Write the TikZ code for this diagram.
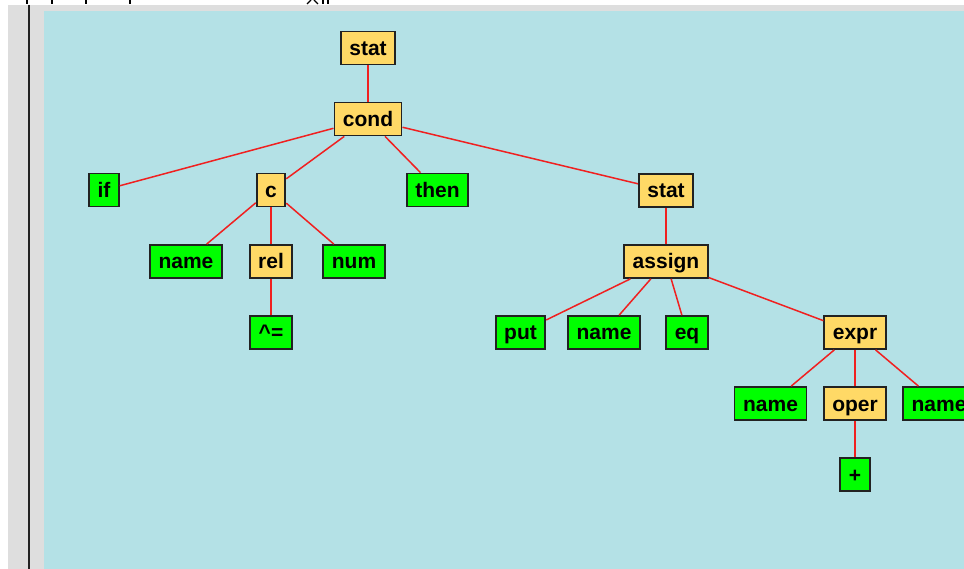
\documentclass[tikz,border=0pt]{standalone}
\usepackage{fontspec}
\setmainfont{Liberation Sans}
\definecolor{panelgray}{HTML}{DEDEDE}
\definecolor{canvas}{HTML}{B4E1E6}
\definecolor{inner}{HTML}{FFD966}
\definecolor{leaf}{HTML}{00FF00}
\definecolor{edgered}{HTML}{F02020}
\definecolor{rim}{HTML}{222222}
\tikzset{
  tnode/.style={draw=rim, line width=1.8pt, minimum height=33pt,
    inner xsep=8.5pt, inner ysep=0pt, font=\fontsize{21}{21}\selectfont\bfseries,
    text height=17pt, text depth=2pt},
  nonterm/.style={tnode, fill=inner},
  term/.style={tnode, fill=leaf},
  branch/.style={draw=edgered, line width=1.5pt},
}
\begin{document}
\begin{tikzpicture}[x=1pt, y=-1pt]
\useasboundingbox (0,0) rectangle (964,569);
\fill[white] (0,0) rectangle (964,569);
% window frame
\fill[panelgray] (8,5) rectangle (964,569);
\fill[canvas] (44,11) rectangle (964,569);
\draw[rim, line width=2pt] (29,5) -- (29,569);
% glyph fragments along the top edge
\foreach \tx in {27,52,86,130} \draw[black, line width=1.4pt] (\tx,0) -- (\tx,4);
\draw[black, line width=1.2pt] (307,4) -- (311,0) (318,4) -- (314,0);
\draw[black, line width=1.2pt] (323,0) -- (323,4) (328,0) -- (328,4);

% parse tree nodes
\node[nonterm] (stat)   at (368,48)     {stat};
\node[nonterm] (cond)   at (368,119)    {cond};
\node[term]    (if)     at (104,190)    {if};
\node[nonterm] (c)      at (271,190)    {c};
\node[term]    (then)   at (437.5,190)  {then};
\node[nonterm] (stat2)  at (666,190.5)  {stat};
\node[term]    (name1)  at (186,261.5)  {name};
\node[nonterm] (rel)    at (271,261.5)  {rel};
\node[term]    (num)    at (354,261.5)  {num};
\node[term]    (ne)     at (271,332.5)  {\^{}=};
\node[nonterm] (assign) at (666,261.5)  {assign};
\node[term]    (put)    at (520.5,332.5){put};
\node[term]    (name2)  at (604,332.5)  {name};
\node[term]    (eq)     at (687,332.5)  {eq};
\node[nonterm] (expr)   at (855,332.5)  {expr};
\node[term]    (name3)  at (770.5,403.5){name};
\node[nonterm] (oper)   at (855,403.5)  {oper};
\node[term]    (name4)  at (939,403.5)  {name};
\node[term]    (plus)   at (855,474.5)  {+};

% branches
\draw[branch] (stat) -- (cond);
\draw[branch] (cond) -- (if);
\draw[branch] (cond) -- (c);
\draw[branch] (cond) -- (then);
\draw[branch] (cond) -- (stat2);
\draw[branch] (c) -- (name1);
\draw[branch] (c) -- (rel);
\draw[branch] (c) -- (num);
\draw[branch] (rel) -- (ne);
\draw[branch] (stat2) -- (assign);
\draw[branch] (assign) -- (put);
\draw[branch] (assign) -- (name2);
\draw[branch] (assign) -- (eq);
\draw[branch] (assign) -- (expr);
\draw[branch] (expr) -- (name3);
\draw[branch] (expr) -- (oper);
\draw[branch] (expr) -- (name4);
\draw[branch] (oper) -- (plus);
\end{tikzpicture}
\end{document}
